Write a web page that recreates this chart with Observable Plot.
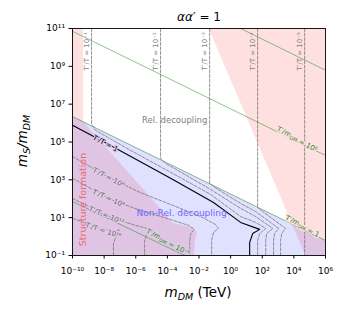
<!DOCTYPE html>
<html><head><meta charset="utf-8">
<script src="https://cdn.jsdelivr.net/npm/d3@7"></script>
<script src="https://cdn.jsdelivr.net/npm/@observablehq/plot@0.6"></script>
<style>body{margin:0;background:#fff;} svg{display:block;}</style>
</head><body><div id="chart"></div>
<script>
// ---- tick values ----
const xTicks = [1e-10,1e-8,1e-6,1e-4,1e-2,1,1e2,1e4,1e6];
const yTicks = [1e-1,1e1,1e3,1e5,1e7,1e9,1e11];

// ---- shaded regions (mDM [TeV], mS/mDM) ----
const blueBoundary = [[1e-10,2.2e6],[1e6,0.62]];           // non-rel. decoupling region top (T'/mDM = 1)
const structureEdge = [[5e-10,1e11],[5e-10,1.1e6],[7.1e-8,1.07e4],[2.5e-4,4.9],[2.9e-3,3.0],[8.1e-3,1.66],[6.0e-3,0.62],[5.2e-3,0.1]];
const pinkRightEdge = [[4.3e-2,1e11],[5.6e4,0.1]];

// ---- T'/T contours ----
const contourOne = [[1e-10,7.6e5],[2.6e-8,6.6e4],[1.6e-4,1.2e3],[8.3e-2,63],[4.3,5.6],[69,2.4],[25,1.45],[16,0.49],[16,0.1]];
const contourM1 = [[1.6e-9,1e11],[1.6e-9,8.5e5],[2.9e-9,4.1e5],[4.7e-7,3.6e4],[1.6e-4,2.5e3],[5.4e-2,170],[4.3,11.5],[38,5.6],[170,2.7],[69,1.45],[51,0.62],[51,0.1]];
const contourM2 = [[3.7e-5,1e11],[3.7e-5,1.35e4],[7.8e-5,7.4e3],[5.4e-2,310],[4.3,31],[38,11.5],[460,2.7],[190,1.45],[165,0.62],[165,0.1]];
const contourM3 = [[4.7e-2,1e11],[4.7e-2,650],[9.8e-2,400],[4.3,56],[38,21],[1.1e3,2.7],[600,1.45],[520,0.62],[520,0.1]];
const contourM4 = [[51,1e11],[51,35],[107,21],[3.0e3,2.7],[1.7e3,1.45],[1.45e3,0.62],[1.45e3,0.1]];
const contourM5 = [[4.8e4,1e11],[4.8e4,0.1]];
const contourP4 = [[1e-10,1.7e4],[2.6e-8,1.2e3],[2.0e-6,210],[1.6e-4,50],[1.26e-2,11.5],[0.11,4.4],[0.17,2.7],[8.3e-2,1.66],[6.3e-2,0.62],[6.3e-2,0.1]];
const contourP8 = [[1e-10,1.2e3],[2.6e-8,91],[2.0e-6,24],[1.6e-4,8],[2.2e-3,3.9],[5.2e-3,2.4],[3.0e-3,1.45],[2.6e-3,0.62],[2.6e-3,0.1]];
const contourP12 = [[1e-10,105],[2.6e-8,10.2],[9.8e-7,3.9],[8.7e-6,2.4],[4.8e-6,1.3],[3.6e-6,0.55],[3.6e-6,0.1]];
const contourP16 = [[1e-10,9.1],[5.9e-9,2.7],[6.0e-8,1.86],[9.4e-8,2.4],[6.0e-8,1.15],[3.9e-8,0.43],[3.9e-8,0.1]];

// vertical-contour labels (top)
const vertLabelText = ["T′/T = 10⁻¹","T′/T = 10⁻²","T′/T = 10⁻³","T′/T = 10⁻⁴","T′/T = 10⁻⁵"];
const vertLabelX = [1.6e-9,3.7e-5,4.7e-2,51,4.8e4];
const vertLabelY = [6.2e9,6.2e9,6.2e9,6.2e9,6.2e9];

// inline contour labels
const inlineText = ["T′/T = 1","T′/T = 10⁴","T′/T = 10⁸","T′/T = 10¹²","T′/T = 10¹⁶"];
const inlineX = [1.2e-8,1.9e-8,1.9e-8,1.4e-8,9.1e-9];
const inlineY = [8.5e4,1.35e3,105,13,2.1];
const inlineAngle = [28,27,24,22,18];

// ---- T'/mDM lines ----
const greenStart = [[4.3,1e11],[1e-10,7.1e10],[1e-10,2.2e6],[1e-10,72]];
const greenEnd = [[1e6,6.2e8],[1e6,1.95e4],[1e6,0.62],[1.26e-3,0.1]];
const greenLabelText = ["T′/m{DM} = 10⁶","T′/m{DM} = 1","T′/m{DM} = 10⁻⁶"];
const greenLabelX = [1.7e4,3.6e4,1.2e-4];
const greenLabelY = [1.55e5,3.9,0.55];
const greenLabelHalo = ["#ffe0e0","#ffe0e0","#e2cbe6"];

const supMap = {"0":"⁰","1":"¹","2":"²","3":"³","4":"⁴","5":"⁵","6":"⁶","7":"⁷","8":"⁸","9":"⁹","-":"⁻"};
const fmt = d => "10" + String(Math.round(Math.log10(d))).split("").map(c => supMap[c]).join("");

const dash = {x: d => d[0], y: d => d[1], stroke: "#777", strokeWidth: 0.8, strokeDasharray: "3,1.6"};
const idx = a => a.map((_, i) => i);

const plot = Plot.plot({
  width: 346, height: 314,
  marginLeft: 72, marginRight: 21, marginTop: 28, marginBottom: 59,
  x: {type: "log", domain: [1e-10, 1e6]},
  y: {type: "log", domain: [1e-1, 1e11]},
  style: {fontFamily: "DejaVu Sans", fontSize: "9px", background: "white", overflow: "visible"},
  marks: [
    Plot.areaX(structureEdge, {y: d => d[1], x1: 1e-10, x2: d => d[0], fill: "#ff0000", fillOpacity: 0.12}),
    Plot.areaX(pinkRightEdge, {y: d => d[1], x1: d => d[0], x2: 1e6, fill: "#ff0000", fillOpacity: 0.12}),
    Plot.areaY(blueBoundary, {x: d => d[0], y1: 0.1, y2: d => d[1], fill: "#0000ff", fillOpacity: 0.12}),
    Plot.link(idx(greenStart), {x1: i => greenStart[i][0], y1: i => greenStart[i][1], x2: i => greenEnd[i][0], y2: i => greenEnd[i][1], stroke: "green", strokeOpacity: 0.5, strokeWidth: 0.9, clip: true}),
    ...[contourM1, contourM2, contourM3, contourM4, contourM5, contourP4, contourP8, contourP12, contourP16].map(c => Plot.line(c, {...dash, clip: true})),
    Plot.line(contourOne, {x: d => d[0], y: d => d[1], stroke: "black", strokeWidth: 1.1, clip: true}),
    Plot.text(idx(vertLabelText), {x: i => vertLabelX[i], y: i => vertLabelY[i], text: i => vertLabelText[i], rotate: -90, dx: -5, fill: "#808080", fontSize: 7}),
    Plot.text(idx(inlineText), {x: i => inlineX[i], y: i => inlineY[i], text: i => inlineText[i], rotate: i => inlineAngle[i], fill: i => i === 0 ? "black" : "#666", fontSize: 7, stroke: "#e2cbe6", strokeWidth: 2.5, paintOrder: "stroke"}),
    Plot.text(idx(greenLabelText), {x: i => greenLabelX[i], y: i => greenLabelY[i], text: i => greenLabelText[i], rotate: 26, fill: "#1f8a1f", fontSize: 7, stroke: i => greenLabelHalo[i], strokeWidth: 2.5, paintOrder: "stroke"}),
    Plot.text(["Rel. decoupling"], {x: 2.9e-4, y: 1.4e6, text: d => d, fill: "#808080", fontSize: 8.5}),
    Plot.text(["Non-Rel. decoupling"], {x: 7.9e-4, y: 17, text: d => d, fill: "#6b6bff", fontSize: 9}),
    Plot.text(["Structure formation"], {x: 4.3e-10, y: 91, text: d => d, rotate: -90, fill: "#ee6677", fontSize: 9.5}),
    Plot.frame({stroke: "black", strokeWidth: 0.9}),
    Plot.axisX(xTicks, {tickFormat: fmt, tickSize: 3.5, tickPadding: 9, label: null, fontSize: 9}),
    Plot.axisY(yTicks, {tickFormat: fmt, tickSize: 3.5, tickPadding: 4, label: null, fontSize: 9})
  ]
});
document.getElementById("chart").appendChild(plot);

// subscript markup m{DM} -> tspans
const svg = d3.select(plot);
svg.selectAll("text").each(function() {
  const t = this.textContent;
  if (!t.includes("{")) return;
  const el = d3.select(this);
  const fs = parseFloat(el.attr("font-size")) || 7;
  el.text(null);
  const parts = t.split(/(\{[^}]*\})/);
  parts.forEach(p => {
    if (!p) return;
    if (p.startsWith("{")) {
      el.append("tspan").attr("font-size", fs * 0.7).attr("dy", fs * 0.25).text(p.slice(1, -1));
      el.append("tspan").attr("dy", -fs * 0.25).text("");
    } else el.append("tspan").text(p);
  });
});

// title
const title = svg.append("text").attr("x", 199).attr("y", 21).attr("text-anchor", "middle")
  .attr("font-family", "DejaVu Sans").attr("font-size", 12).attr("fill", "black");
title.append("tspan").attr("font-style", "italic").text("αα");
title.append("tspan").text("′ = 1");

// x label
const xl = svg.append("text").attr("x", 198).attr("y", 297).attr("text-anchor", "middle")
  .attr("font-family", "DejaVu Sans").attr("font-size", 13.5).attr("fill", "black");
xl.append("tspan").attr("font-style", "italic").text("m");
xl.append("tspan").attr("font-style", "italic").attr("font-size", 9.5).attr("dy", 3).text("DM");
xl.append("tspan").attr("dy", -3).text(" (TeV)");

// y label
const yl = svg.append("text").attr("transform", "translate(27,141) rotate(-90)").attr("text-anchor", "middle")
  .attr("font-family", "DejaVu Sans").attr("font-size", 13.5).attr("fill", "black");
yl.append("tspan").attr("font-style", "italic").text("m");
yl.append("tspan").attr("font-style", "italic").attr("font-size", 9.5).attr("dy", 3).text("S");
yl.append("tspan").attr("font-style", "italic").attr("dy", -3).text("/m");
yl.append("tspan").attr("font-style", "italic").attr("font-size", 9.5).attr("dy", 3).text("DM");
</script>
</body></html>
